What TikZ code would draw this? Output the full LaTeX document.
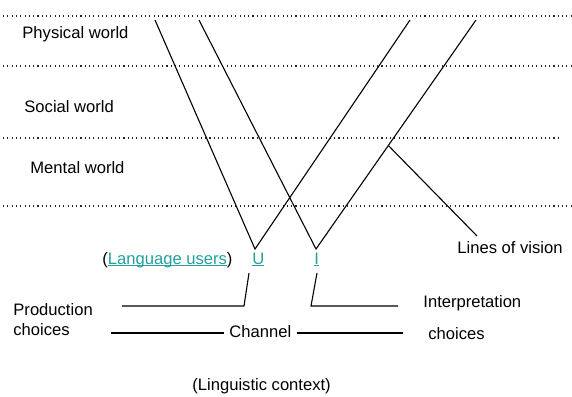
\documentclass[tikz,border=0pt]{standalone}
\usepackage{fontspec}
\setmainfont{Liberation Sans}
\usetikzlibrary{calc}
\definecolor{lnkcol}{RGB}{34,160,158}
\newcommand\lnk[1]{\textcolor{lnkcol}{\setbox0\hbox{#1}\rlap{\rule[-1.1pt]{\wd0}{0.5pt}}\box0}}

\begin{document}
\begin{tikzpicture}[
                x = 0.5pt, y = -0.5pt,
                lbl/.style={ inner sep = 1pt, anchor = base west, font = \fontsize{8.3}{10}\selectfont },
                world/.style={ black!85, line width = .6pt, dash pattern = on .55pt off 1.6pt },
                sight/.style={ black, line width = .55pt }
            ]
            \useasboundingbox (0, 0) rectangle (572, 396);

            % levels
            \draw [world] (3, 16)  -- (572, 16);
            \draw [world] (3, 66)  -- (572, 66);
            \draw [world] (3, 138) -- (560, 138);
            \draw [world] (3, 206) -- (572, 206);

            \node (phys) [lbl] at (20, 39)  {Physical world};
            \node (soc)  [lbl] at (22, 112) {Social world};
            \node (ment) [lbl] at (28, 173) {Mental world};

            % users
            \node (lu) [lbl] at (100, 264) {(\lnk{Language users})};
            \node (U)  [lbl] at (250, 264) {\lnk{U}};
            \node (I)  [lbl] at (312, 264) {\lnk{I}};

            % lines of vision
            \coordinate (at) at (155, 20);
            \coordinate (bt) at (199, 20);
            \coordinate (ct) at (410, 20);
            \coordinate (dt) at (476, 20);
            \coordinate (uv) at (255, 249);
            \coordinate (iv) at (316, 249);

            \draw [sight] (at) -- (uv) -- (ct);
            \draw [sight] (bt) -- (iv) -- (dt);

            \node (lv) [lbl] at (455, 253) {Lines of vision};
            \coordinate (vp)  at ($(dt)!0.548!(iv)$);
            \coordinate (lvp) at (477, 236);
            \draw [sight] (vp) -- (lvp);

            % choices
            \node (prod) [lbl, align = left] at (11, 335) {Production\\choices};
            \node (intp) [lbl] at (421, 307) {Interpretation};
            \node (ichc) [lbl] at (426, 339) {choices};

            \coordinate (uc) at (249, 273);
            \coordinate (ub) at (244, 306);
            \coordinate (pe) at (122, 306);
            \coordinate (ic) at (317, 273);
            \coordinate (ib) at (311, 306);
            \coordinate (ie) at (398, 306);

            \draw [sight] (uc) -- (ub) -- (pe);
            \draw [sight] (ic) -- (ib) -- (ie);

            % channel
            \node (ch) [lbl, inner sep = 2.5pt] at (224, 337) {Channel};
            \coordinate (chl) at (111, 333);
            \coordinate (chr) at (403, 333);
            \draw [sight] (chl) -- (ch.west |- chl);
            \draw [sight] (ch.east |- chr) -- (chr);

            \node (ctx) [lbl] at (190, 390) {(Linguistic context)};
        \end{tikzpicture}
\end{document}
